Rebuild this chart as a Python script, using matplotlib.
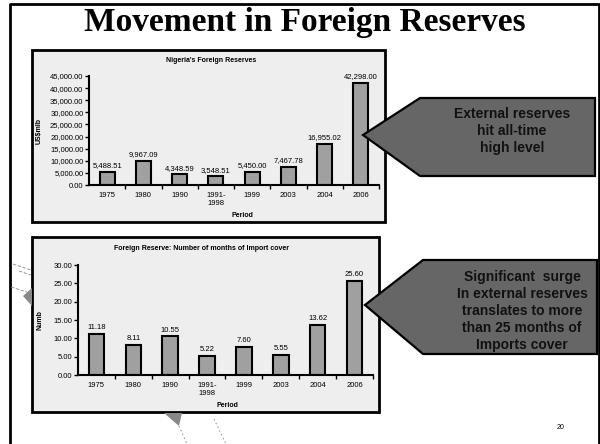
import matplotlib.pyplot as plt
from matplotlib.patches import Polygon, Rectangle

periods = ["1975", "1980", "1990", "1991-\n1998", "1999", "2003", "2004", "2006"]
reserves = [5488.51, 9967.09, 4348.59, 3548.51, 5450.00, 7467.78, 16955.02, 42298.00]
import_cover = [11.18, 8.11, 10.55, 5.22, 7.60, 5.55, 13.62, 25.60]

reserve_ticks = [0, 5000, 10000, 15000, 20000, 25000, 30000, 35000, 40000, 45000]
cover_ticks = [0, 5, 10, 15, 20, 25, 30]

W, H = 600, 444
SANS = "Liberation Sans"


def box(left, top, right, bottom):
    # pixel box (origin top-left) -> figure fraction rect
    return [left / W, 1 - bottom / H, (right - left) / W, (bottom - top) / H]


def bar_panel(rect, values, ticks, title, ylabel, fmt, ylabel_x, period_xy, title_y):
    ax = fig.add_axes(rect, zorder=2)
    ax.patch.set_alpha(0)
    x = range(len(values))
    bars = ax.bar(x, values, width=0.42, color="#a0a0a0", edgecolor="black", linewidth=1.5)
    for b, v in zip(bars, values):
        ax.annotate(fmt(v), (b.get_x() + b.get_width() / 2, v), xytext=(0, 2),
                    textcoords="offset points", ha="center", va="bottom",
                    fontsize=5.5, family=SANS)
    ax.set_xlim(-0.5, len(values) - 0.5)
    ax.set_ylim(ticks[0], ticks[-1])
    ax.set_yticks(ticks)
    ax.set_yticklabels([fmt(t) for t in ticks], fontsize=5.5, family=SANS)
    ax.set_xticks(list(x))
    ax.set_xticklabels(periods, fontsize=5.5, family=SANS, linespacing=1.2)
    ax.set_xticks([i + 0.5 for i in x], minor=True)
    ax.tick_params(axis="x", which="major", length=0, pad=5)
    ax.tick_params(axis="x", which="minor", length=3, width=1, direction="out")
    ax.tick_params(axis="y", length=3, width=1, direction="out", pad=1)
    for s in ("top", "right"):
        ax.spines[s].set_visible(False)
    for s in ("left", "bottom"):
        ax.spines[s].set_linewidth(1.5)
    ax.set_ylabel(ylabel, fontsize=5, family=SANS, fontweight="bold")
    ax.yaxis.set_label_coords(ylabel_x, 0.5)
    ax.set_xlabel("Period", fontsize=5, family=SANS, fontweight="bold")
    ax.xaxis.set_label_coords(*period_xy)
    ax.text(0.42, title_y, title, transform=ax.transAxes, ha="center", va="center",
            fontsize=5, family=SANS, fontweight="bold")
    return ax


fig = plt.figure(figsize=(6, 4.44), dpi=100)

bg = fig.add_axes([0, 0, 1, 1], zorder=0)
bg.set_xlim(0, W)
bg.set_ylim(H, 0)
bg.axis("off")

# slide frame and title
bg.plot([10, 10, 599, 599], [444, 4, 4, 444], color="black", lw=2, solid_capstyle="butt")
bg.text(305, 22, "Movement in Foreign Reserves", ha="center", va="center",
        fontsize=24, family="Liberation Serif", fontweight="bold")
bg.text(561, 427, "20", ha="center", va="center", fontsize=5, family=SANS)

# chart backgrounds
bg.add_patch(Rectangle((32, 50), 353, 172, facecolor="#eeeeee", edgecolor="black", lw=2))
bg.add_patch(Rectangle((32, 237), 347, 175, facecolor="#eeeeee", edgecolor="black", lw=2))

bar_panel(box(89, 76, 379, 185), reserves, reserve_ticks, "Nigeria's Foreign Reserves",
          "US$mlb", lambda v: f"{v:,.2f}", (43 - 89) / 290, ((242 - 89) / 290, -(212 - 185) / 109),
          1 + (76 - 60) / 109)
bar_panel(box(78, 265, 373, 375), import_cover, cover_ticks,
          "Foreign Reserve: Number of months of Import cover",
          "Numb", lambda v: f"{v:.2f}", (43 - 78) / 295, ((227 - 78) / 295, -(402 - 375) / 110),
          1 + (265 - 249) / 110)

fg = fig.add_axes([0, 0, 1, 1], zorder=5)
fg.set_xlim(0, W)
fg.set_ylim(H, 0)
fg.axis("off")
fg.patch.set_alpha(0)

# callout arrows
fg.add_patch(Polygon([(363, 135), (420, 98), (595, 98), (595, 176), (420, 176)],
                     closed=True, facecolor="#666666", edgecolor="black", lw=1.6))
fg.text(512, 131, "External reserves\nhit all-time\nhigh level", ha="center", va="center",
        fontsize=10, family=SANS, fontweight="bold", color="#111111", linespacing=1.25)
fg.add_patch(Polygon([(365, 305), (423, 260), (597, 260), (597, 354), (423, 354)],
                     closed=True, facecolor="#666666", edgecolor="black", lw=1.6))
fg.text(522, 311, "Significant  surge\nIn external reserves\ntranslates to more\n"
        "than 25 months of\nImports cover", ha="center", va="center",
        fontsize=10, family=SANS, fontweight="bold", color="#111111", linespacing=1.27)

# faint connector marks behind the lower chart
for xs, ys in [([13, 31], [264, 270]), ([19, 31], [271, 275]), ([11, 27], [287, 292])]:
    fg.plot(xs, ys, color="#888888", lw=0.6, ls=(0, (4, 2)))
fg.add_patch(Polygon([(23, 296), (32, 288), (32, 306)], closed=True,
                     facecolor="#888888", edgecolor="none"))
fg.add_patch(Polygon([(164, 413), (182, 413), (179, 426)], closed=True,
                     facecolor="#888888", edgecolor="none"))
fg.plot([179, 187], [426, 444], color="#888888", lw=0.6, ls=(0, (2, 3)))
fg.plot([214, 226], [419, 444], color="#888888", lw=0.6, ls=(0, (2, 3)))

fig.savefig("out.png", dpi=100)
